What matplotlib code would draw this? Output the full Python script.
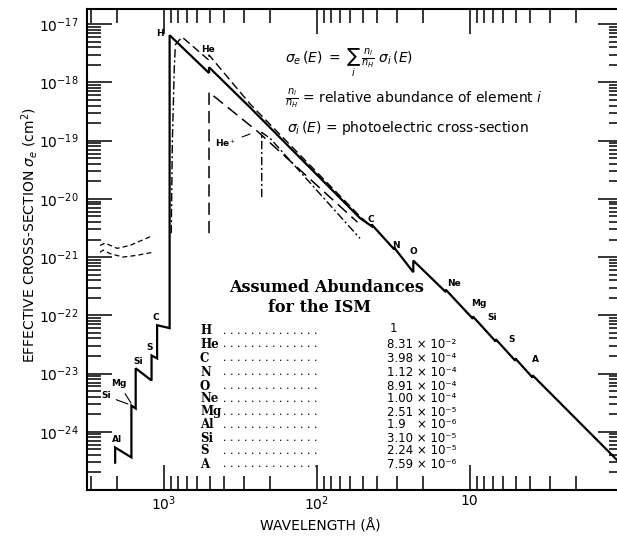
import numpy as np
import matplotlib.pyplot as plt
from matplotlib.ticker import FixedLocator, FixedFormatter, LogLocator, NullFormatter

# wavelength (Angstrom) and log10 of effective cross-section (cm^2)
total_lam = [2070, 2070, 1621, 1621, 1520, 1520, 1197, 1197, 1101, 1101,
             912, 912, 504, 504, 272, 52, 43.6, 43.6, 31.0, 31.0, 23.3, 23.3,
             14.3, 14.3, 9.5, 9.5, 6.74, 6.74, 5.02, 5.02, 3.87, 3.87, 1.0]
total_log = [-24.53, -24.27, -24.44, -23.55, -23.60, -22.91, -23.12, -22.69, -22.74, -22.17,
             -22.22, -17.19, -17.84, -17.74, -18.43, -20.33, -20.47, -20.44, -20.87, -20.84,
             -21.26, -21.06, -21.60, -21.56, -22.06, -22.02, -22.45, -22.41, -22.78, -22.74,
             -23.07, -23.03, -24.58]

upper_lam = [841, 757, 504, 504, 272, 52, 45]
upper_log = [-17.36, -17.22, -17.62, -17.53, -18.37, -20.30, -20.45]

rise_lam = [890, 875, 850, 838]
rise_log = [-20.59, -19.00, -17.75, -17.40]

hei_lam = [504, 504, 241, 54]
hei_log = [-20.59, -18.17, -18.85, -20.40]

heii_lam = [228, 228, 201, 52]
heii_log = [-19.97, -18.86, -18.96, -20.68]

wig1_lam = [2600, 2410, 2014, 1657, 1172]
wig1_log = [-20.80, -20.76, -20.85, -20.80, -20.63]
wig2_lam = [2600, 2483, 2239, 1842, 1489, 1189]
wig2_log = [-20.92, -20.88, -20.94, -21.00, -20.97, -20.92]

# abundance table
elements = ['H', 'He', 'C', 'N', 'O', 'Ne', 'Mg', 'Al', 'Si', 'S', 'A']
mantissa = ['1', '8.31', '3.98', '1.12', '8.91', '1.00', '2.51', '1.9  ', '3.10', '2.24', '7.59']
exponent = [None, -2, -4, -4, -4, -4, -5, -6, -5, -5, -6]

x_ticks = [1000, 100, 10, 1]
x_ticklabels = ['$10^3$', '$10^2$', '10', '']
y_ticks = [1e-17, 1e-18, 1e-19, 1e-20, 1e-21, 1e-22, 1e-23, 1e-24, 1e-25]
y_ticklabels = ['$10^{-17}$', '$10^{-18}$', '$10^{-19}$', '$10^{-20}$', '$10^{-21}$',
                '$10^{-22}$', '$10^{-23}$', '$10^{-24}$', '']

W, H = 617, 537
SUP = str.maketrans('-0123456789', '⁻⁰¹²³⁴⁵⁶⁷⁸⁹')


def fpos(x, y):
    # pixel position -> figure fraction
    return x / W, 1 - y / H


fig = plt.figure(figsize=(W / 100, H / 100), dpi=100)
ax = fig.add_axes([87 / W, 1 - 490 / H, (622.5 - 87) / W, (490 - 9) / H])
ax.set_xscale('log')
ax.set_yscale('log')
ax.set_xlim(10 ** 3.5, 1.0)
ax.set_ylim(1e-25, 10 ** -16.74)

sig = lambda v: 10 ** np.array(v)
ax.plot(total_lam, sig(total_log), color='black', lw=1.6, solid_joinstyle='miter')
ax.plot(upper_lam, sig(upper_log), color='black', lw=1.0, dashes=(6, 3))
ax.plot(rise_lam, sig(rise_log), color='black', lw=1.0, dashes=(6, 2, 1.5, 2))
ax.plot(hei_lam, sig(hei_log), color='black', lw=1.1, dashes=(8, 4))
ax.plot(heii_lam, sig(heii_log), color='black', lw=1.0, dashes=(6, 2, 1.5, 2))
ax.plot(wig1_lam, sig(wig1_log), color='black', lw=0.9, dashes=(4, 2.5))
ax.plot(wig2_lam, sig(wig2_log), color='black', lw=0.9, dashes=(4, 2.5))

ax.xaxis.set_major_locator(FixedLocator(x_ticks))
ax.xaxis.set_major_formatter(FixedFormatter(x_ticklabels))
ax.xaxis.set_minor_locator(LogLocator(base=10, subs=np.arange(2, 10), numticks=20))
ax.xaxis.set_minor_formatter(NullFormatter())
ax.yaxis.set_major_locator(FixedLocator(y_ticks))
ax.yaxis.set_major_formatter(FixedFormatter(y_ticklabels))
ax.yaxis.set_minor_locator(LogLocator(base=10, subs=np.arange(2, 10), numticks=20))
ax.yaxis.set_minor_formatter(NullFormatter())
ax.tick_params(which='both', direction='in', top=True, right=True, width=1.1, labelsize=10)
ax.tick_params(which='major', length=18)
ax.tick_params(axis='y', which='major', pad=6)
ax.tick_params(axis='x', which='major', pad=3)
ax.tick_params(which='minor', length=10)
for s in ax.spines.values():
    s.set_linewidth(1.5)

fig.text(*fpos(30, 235), r'EFFECTIVE CROSS-SECTION $\sigma_e$ (cm$^2$)', rotation=90,
         ha='center', va='center', fontsize=10)
fig.text(*fpos(320, 526), 'WAVELENGTH (Å)', ha='center', va='center', fontsize=10)

# formula block
fig.text(*fpos(285, 63), r'$\sigma_e\,(E)\;=\;\sum_i\,\frac{n_i}{n_H}\;\sigma_i\,(E)$',
         ha='left', va='center', fontsize=10)
fig.text(*fpos(285, 98), r'$\frac{n_i}{n_H}$ = relative abundance of element $i$',
         ha='left', va='center', fontsize=10)
fig.text(*fpos(287, 128), r'$\sigma_i\,(E)$ = photoelectric cross-section',
         ha='left', va='center', fontsize=10)

# abundance table
fig.text(*fpos(327, 287), 'Assumed Abundances', ha='center', va='center',
         family='DejaVu Serif', weight='bold', fontsize=11.5)
fig.text(*fpos(320, 307), 'for the ISM', ha='center', va='center',
         family='DejaVu Serif', weight='bold', fontsize=11.5)
row_y = [331, 344, 358, 372, 386, 399, 412, 425, 438, 451, 464]
for el, m, e, y in zip(elements, mantissa, exponent, row_y):
    fig.text(*fpos(200, y), el, ha='left', va='center', family='DejaVu Serif',
             weight='bold', fontsize=8.5)
    fig.text(*fpos(223, y), '. ' * 14, ha='left', va='center', family='DejaVu Serif',
             fontsize=8)
    if e is None:
        fig.text(*fpos(393, y - 2), m, ha='center', va='center', fontsize=8.5)
    else:
        fig.text(*fpos(387, y), m + ' × 10' + str(e).translate(SUP), ha='left',
                 va='center', fontsize=8.5)

# edge labels
edge_labels = [('H', 160, 33), ('He', 208, 49), ('Al', 117, 440), ('Si', 138, 361),
               ('S', 150, 347), ('C', 156, 318), ('C', 371, 220), ('N', 396, 245),
               ('O', 413, 251), ('Ne', 454, 283), ('Mg', 479, 303), ('Si', 492, 318),
               ('S', 512, 340), ('A', 535, 359)]
for t, x, y in edge_labels:
    fig.text(*fpos(x, y), t, ha='center', va='center', fontsize=6.5, weight='bold')

arrow_labels = [('Mg', 119, 384, 131, 403), ('Si', 106, 396, 128, 404),
                ('He$^+$', 226, 143, 250, 134)]
for t, x, y, tx, ty in arrow_labels:
    ax.annotate(t, xy=fpos(tx, ty), xycoords='figure fraction', xytext=fpos(x, y),
                textcoords='figure fraction', ha='center', va='center', fontsize=6.5,
                weight='bold', arrowprops=dict(arrowstyle='-', lw=0.8, shrinkA=2, shrinkB=0))

fig.savefig('out.png', dpi=100)
